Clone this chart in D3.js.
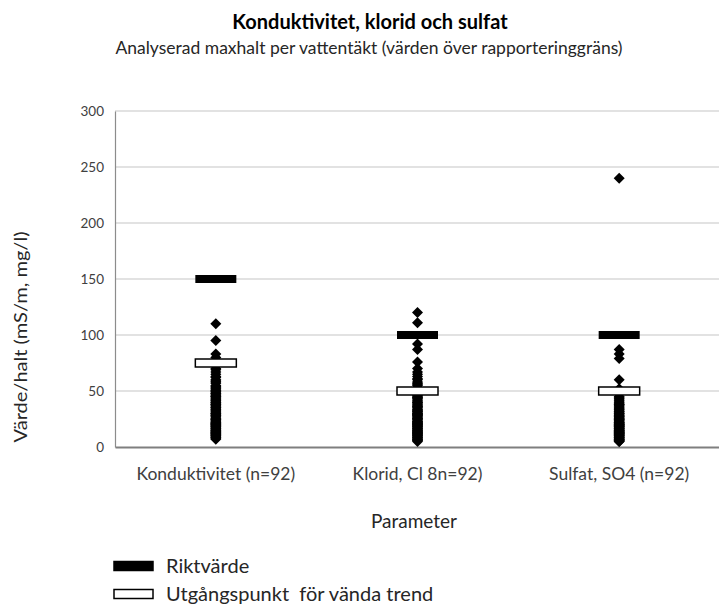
<!DOCTYPE html>
<html lang="sv">
<head>
  <meta charset="UTF-8">
  <title>Konduktivitet, klorid och sulfat</title>
  <style>
    body {
      margin: 0;
      background: white;
      font-family: Lato, "Open Sans", sans-serif;
    }
    svg text {
      font-family: Lato, "Open Sans", sans-serif;
    }
  </style>
</head>
<body>
  <svg width="719" height="611"></svg>
  <script src="https://d3js.org/d3.v7.min.js"></script>
  <script>

// categories and values
const parameters = ["Konduktivitet (n=92)", "Klorid, Cl 8n=92)", "Sulfat, SO4 (n=92)"];
const riktvarde = [150, 100, 100];
const utgangspunkt = [75, 50, 50];
const yTicks = [0, 50, 100, 150, 200, 250, 300];

const konduktivitet = [110, 95, 83, 80, 77, 73, 70, 69, 67, 65, 63, 62, 60, 59, 58, 57, 55, 54, 53, 52,
  51, 50, 49, 48, 47, 46, 45, 44, 43, 42, 41, 40, 39, 38, 37, 36, 35, 34, 33, 32, 31, 30, 29, 28, 27,
  26, 25, 24, 23, 22, 21, 20, 19, 18, 17, 16, 15, 14, 13, 12, 11, 10, 9, 8, 7, 12, 10, 9, 8, 15, 18,
  20, 22, 25, 28, 30, 33, 35, 38, 40, 42, 45, 48, 50, 11, 13, 14, 16, 17, 19, 21, 24];
const klorid = [120, 111, 92, 87, 76, 70, 67, 65, 63, 61, 60, 58, 57, 56, 55, 53, 52, 51, 50, 49, 48,
  46, 45, 44, 43, 42, 41, 40, 39, 38, 37, 36, 35, 34, 33, 32, 31, 30, 29, 28, 27, 26, 25, 24, 23, 22,
  21, 20, 19, 18, 17, 16, 15, 14, 13, 12, 11, 10, 9, 8, 7, 6, 5, 6, 7, 8, 9, 10, 11, 12, 14, 16, 18,
  20, 22, 25, 28, 30, 33, 36, 40, 44, 47, 13, 15, 17, 19, 21, 23, 26, 29, 32];
const sulfat = [240, 87, 83, 79, 60, 52, 48, 45, 43, 41, 40, 38, 37, 35, 34, 32, 31, 30, 28, 27, 26,
  25, 24, 22, 21, 20, 19, 18, 17, 16, 15, 14, 13, 12, 11, 10, 9, 8, 7, 6, 5, 5, 6, 7, 8, 9, 10, 11,
  12, 13, 14, 15, 16, 17, 18, 19, 20, 21, 22, 23, 24, 25, 26, 28, 30, 32, 34, 36, 39, 42, 44, 6, 7,
  8, 9, 10, 11, 12, 13, 14, 15, 16, 17, 18, 19, 20, 22, 24, 27, 29, 33, 38];
const series = [konduktivitet, klorid, sulfat];

const svg = d3.select("svg");

const x = d3.scaleBand()
  .domain(parameters)
  .range([115, 720]);

const y = d3.scaleLinear()
  .domain([0, 300])
  .range([447, 111]);

// gridlines
svg.append("g")
  .selectAll("line")
  .data(yTicks.slice(1))
  .join("line")
  .attr("x1", 115)
  .attr("x2", 719)
  .attr("y1", d => y(d))
  .attr("y2", d => y(d))
  .attr("stroke", "#d9d9d9")
  .attr("stroke-width", 1.3);

// y axis
const yAxis = svg.append("g")
  .attr("transform", "translate(115,0)")
  .call(d3.axisLeft(y).tickValues(yTicks).tickSize(0).tickPadding(11));
yAxis.select(".domain").attr("stroke", "#8c8c8c").attr("stroke-width", 1.2);
yAxis.selectAll(".tick text")
  .attr("font-size", 13.5)
  .attr("fill", "#404040");

// x axis
const xAxis = svg.append("g")
  .attr("transform", "translate(0,447)")
  .call(d3.axisBottom(x).tickSize(0).tickPadding(21));
xAxis.select(".domain").attr("stroke", "#7f7f7f").attr("stroke-width", 1.8);
xAxis.selectAll(".tick text")
  .attr("font-size", 17.5)
  .attr("fill", "#404040");

// data points
const diamond = "M0,-5.5L5.5,0L0,5.5L-5.5,0Z";
series.forEach((vals, i) => {
  svg.append("g")
    .selectAll("path")
    .data(vals)
    .join("path")
    .attr("d", diamond)
    .attr("transform", d => `translate(${x(parameters[i]) + x.bandwidth() / 2},${y(d)})`)
    .attr("fill", "black");
});

// riktvärde and utgångspunkt markers
const markW = 41, markH = 8;
svg.append("g")
  .selectAll("rect")
  .data(riktvarde)
  .join("rect")
  .attr("x", (d, i) => x(parameters[i]) + x.bandwidth() / 2 - markW / 2)
  .attr("y", d => y(d) - markH / 2)
  .attr("width", markW)
  .attr("height", markH)
  .attr("fill", "black");

svg.append("g")
  .selectAll("rect")
  .data(utgangspunkt)
  .join("rect")
  .attr("x", (d, i) => x(parameters[i]) + x.bandwidth() / 2 - markW / 2)
  .attr("y", d => y(d) - markH / 2)
  .attr("width", markW)
  .attr("height", markH)
  .attr("fill", "white")
  .attr("stroke", "black")
  .attr("stroke-width", 1.5);

// titles
svg.append("text")
  .attr("x", 370)
  .attr("y", 29)
  .attr("text-anchor", "middle")
  .attr("font-size", 20)
  .attr("font-weight", "bold")
  .text("Konduktivitet, klorid och sulfat");

svg.append("text")
  .attr("x", 369)
  .attr("y", 54)
  .attr("text-anchor", "middle")
  .attr("font-size", 17.5)
  .attr("fill", "#262626")
  .text("Analyserad maxhalt per vattentäkt (värden över rapporteringgräns)");

svg.append("text")
  .attr("transform", "translate(27,337) rotate(-90)")
  .attr("text-anchor", "middle")
  .attr("font-size", 17)
  .attr("textLength", 211)
  .attr("lengthAdjust", "spacingAndGlyphs")
  .attr("fill", "#262626")
  .text("Värde/halt (mS/m, mg/l)");

svg.append("text")
  .attr("x", 414)
  .attr("y", 528)
  .attr("text-anchor", "middle")
  .attr("font-size", 19)
  .attr("fill", "#262626")
  .text("Parameter");

// legend
const legend = [
  {label: "Riktvärde", fill: "black"},
  {label: "Utgångspunkt  för vända trend", fill: "white"}
];
const lg = svg.append("g")
  .selectAll("g")
  .data(legend)
  .join("g")
  .attr("transform", (d, i) => `translate(114,${566 + i * 28})`);
lg.append("rect")
  .attr("x", 0)
  .attr("y", -4.5)
  .attr("width", 39)
  .attr("height", 9)
  .attr("fill", d => d.fill)
  .attr("stroke", "black")
  .attr("stroke-width", 1.5);
lg.append("text")
  .attr("x", 52)
  .attr("y", 7)
  .attr("font-size", 20)
  .attr("fill", "#262626")
  .style("white-space", "pre")
  .text(d => d.label);
  </script>
</body>
</html>
